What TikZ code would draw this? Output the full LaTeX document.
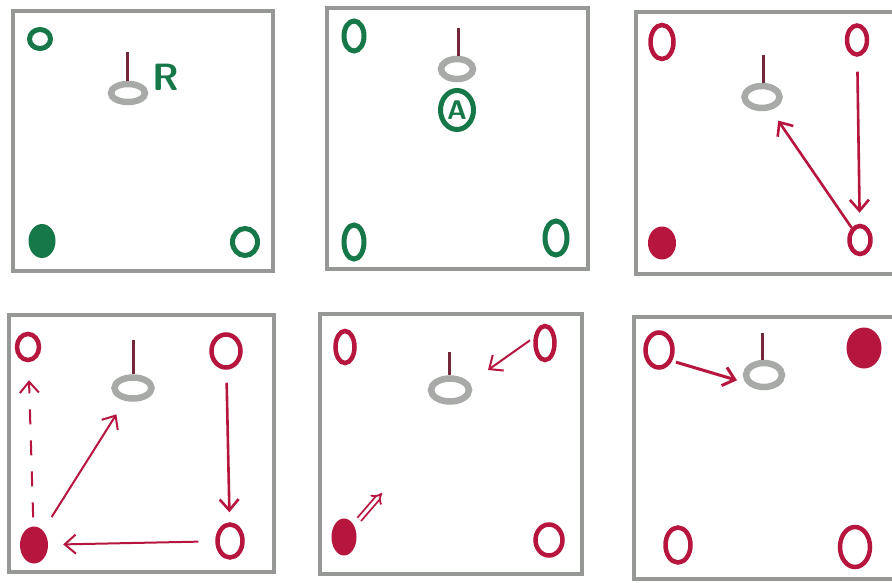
\documentclass[tikz,border=0pt]{standalone}
\usetikzlibrary{shapes.geometric,arrows.meta}
\definecolor{mgreen}{RGB}{22,120,72}
\definecolor{mred}{RGB}{182,22,62}
\definecolor{framegray}{RGB}{150,152,150}
\definecolor{hoopgray}{RGB}{168,170,168}
\definecolor{polecol}{RGB}{115,40,58}
\begin{document}
\begin{tikzpicture}[x=1pt,y=-1pt,
  frame/.style={draw=framegray, line width=4.5pt},
  sz/.style 2 args={minimum width=#1pt, minimum height=#2pt},
  gring/.style={ellipse, draw=mgreen, line width=5pt, inner sep=0pt},
  gdot/.style={ellipse, fill=mgreen, inner sep=0pt},
  rring/.style={ellipse, draw=mred, line width=4.5pt, inner sep=0pt},
  rdot/.style={ellipse, fill=mred, inner sep=0pt},
  hoop/.style={ellipse, draw=hoopgray, line width=6.5pt, inner sep=0pt},
  pole/.style={draw=polecol, line width=3pt},
  arr/.style={draw=mred, line width=2.6pt, -{Straight Barb[length=11pt,width=19pt]}},
  thinarr/.style={arr, line width=2pt},
  gtext/.style={text=mgreen, font=\sffamily\bfseries\fontsize{38}{38}\selectfont, inner sep=0pt}
]
\clip (0,0) rectangle (892,583);
\fill[white] (0,0) rectangle (892,583);

% ---------- Panel 1 ----------
\draw[frame] (13,11) rectangle (273,271);
\node[gring, sz={21}{19}] (p1tl) at (40,39) {};
\node[hoop, sz={34}{18}] (p1h) at (128,93) {};
\coordinate (p1p) at (127,52);
\draw[pole] (p1p) -- (p1p |- p1h.north);
\node[gtext] (p1r) at (166,77) {R};
\node[gdot, sz={27}{34}] (p1bl) at (42,241) {};
\node[gring, sz={25}{27}] (p1br) at (245,242) {};

% ---------- Panel 2 ----------
\draw[frame] (327,8) rectangle (588,269);
\node[gring, sz={20}{30}] (p2tl) at (354,36) {};
\node[hoop, sz={32}{20}] (p2h) at (457,69) {};
\coordinate (p2p) at (458,28);
\draw[pole] (p2p) -- (p2p |- p2h.north);
\node[gring, sz={33}{39}, text=mgreen,
      font=\sffamily\bfseries\fontsize{27}{27}\selectfont] (p2a) at (457,110) {A};
\node[gring, sz={20}{34}] (p2bl) at (354,242) {};
\node[gring, sz={22}{34}] (p2br) at (556,238) {};

% ---------- Panel 3 ----------
\draw[frame] (636,12) rectangle (905,274);
\node[rring, sz={23}{34}] (p3tl) at (662,42) {};
\node[rring, sz={20}{29}] (p3tr) at (857,40) {};
\node[hoop, sz={35}{22}] (p3h) at (762,97) {};
\coordinate (p3p) at (763,55);
\draw[pole] (p3p) -- (p3p |- p3h.north);
\node[rdot, sz={28}{33}] (p3bl) at (662,243) {};
\node[rring, sz={21}{28}] (p3br) at (860,240) {};
\draw[arr, shorten <=15pt, shorten >=11pt] (p3tr) -- (p3br);
\draw[arr, shorten >=13pt] (p3br) -- (p3h);

% ---------- Panel 4 ----------
\draw[frame] (9,315) rectangle (274,572);
\node[rring, sz={22}{26}] (p4tl) at (28,347) {};
\node[rring, sz={29}{33}] (p4tr) at (226,351) {};
\node[hoop, sz={37}{21}] (p4h) at (133,388) {};
\coordinate (p4p) at (133,340);
\draw[pole] (p4p) -- (p4p |- p4h.north);
\node[rdot, sz={28}{37}] (p4bl) at (34,545) {};
\node[rring, sz={25}{33}] (p4br) at (230,541) {};
\draw[thinarr, dash pattern=on 15pt off 16pt, shorten <=9pt, shorten >=18pt] (p4bl) -- (p4tl);
\draw[thinarr, shorten <=16pt, shorten >=16pt] (p4bl) -- (p4h);
\draw[arr, shorten <=13pt, shorten >=10pt] (p4tr) -- (p4br);
\draw[thinarr, shorten <=17pt, shorten >=15pt] (p4br) -- (p4bl);

% ---------- Panel 5 ----------
\draw[frame] (320,314) rectangle (582,574);
\node[rring, sz={19}{32}] (p5tl) at (345,347) {};
\node[rring, sz={19}{34}] (p5tr) at (545,343) {};
\node[hoop, sz={38}{23}] (p5h) at (450,390) {};
\coordinate (p5p) at (449,352);
\draw[pole] (p5p) -- (p5p |- p5h.north);
\node[rdot, sz={25}{37}] (p5bl) at (344,537) {};
\node[rring, sz={27}{31}] (p5br) at (549,540) {};
\coordinate (p5e) at (488,370);
\draw[thinarr, shorten <=4pt] ([yshift=5pt]p5tr.west) -- (p5e);
\coordinate (p5d) at (382,493);
\draw[draw=mred, line width=1.8pt, double=white, double distance=3pt,
      -{Implies[length=6pt]}, shorten <=8pt] (p5bl) -- (p5d);

% ---------- Panel 6 ----------
\draw[frame] (634,317) rectangle (905,579);
\node[rring, sz={27}{35}] (p6tl) at (659,350) {};
\node[rdot, sz={35}{41}] (p6tr) at (864,348) {};
\node[hoop, sz={36}{24}] (p6h) at (764,375) {};
\coordinate (p6p) at (762,333);
\draw[pole] (p6p) -- (p6p |- p6h.north);
\node[rring, sz={25}{35}] (p6bl) at (678,545) {};
\node[rring, sz={30}{40}] (p6br) at (855,547) {};
\draw[arr, line width=3pt, shorten <=4pt, shorten >=6pt] (p6tl.-40) -- ([yshift=-7pt]p6h.west);
\end{tikzpicture}
\end{document}
